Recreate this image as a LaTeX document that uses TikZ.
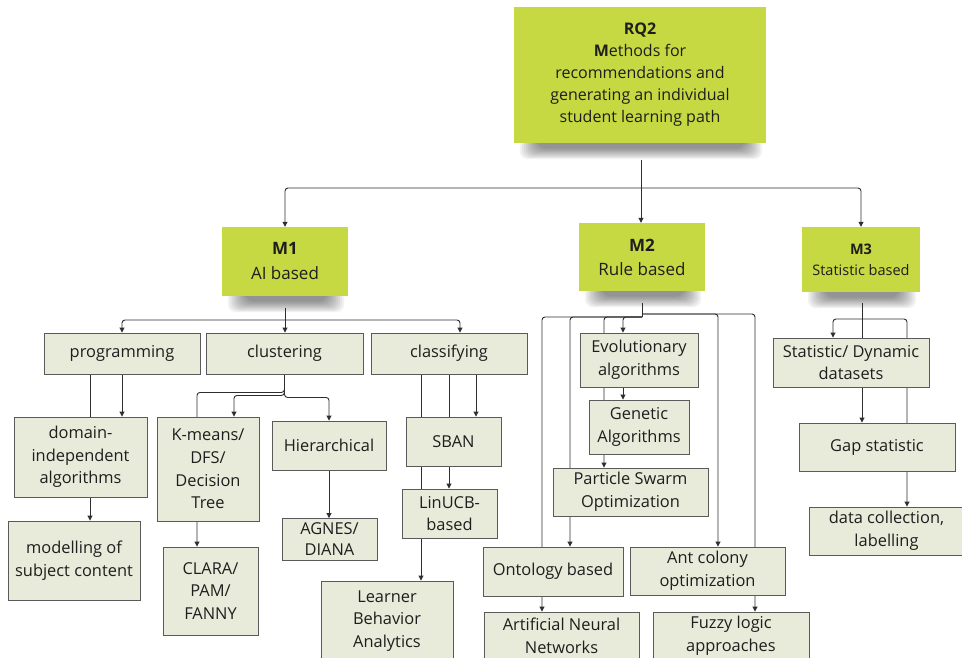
\documentclass[tikz,border=0pt]{standalone}
\usepackage{fontspec}
\setmainfont{Open Sans}
\usetikzlibrary{arrows.meta}
\definecolor{note}{HTML}{C6D842}
\definecolor{boxfill}{HTML}{E8EBDA}
\definecolor{boxline}{HTML}{5A5A5A}
\definecolor{lnk}{HTML}{2E2E2E}
\definecolor{txt}{HTML}{1E1E1E}
\pgfdeclarelayer{bg}
\pgfsetlayers{bg,main}
\begin{document}
\begin{tikzpicture}[x=1pt,y=-1pt,
  wh/.style 2 args={minimum width=#1, minimum height=#2},
  notebox/.style={fill=note, inner sep=0pt, align=center, text=txt},
  shadowpart/.style={fill=black, opacity=0.05, rounded corners=8pt},
  box/.style={draw=boxline, fill=boxfill, line width=0.9pt, inner sep=0pt,
    align=center, text=txt, font=\fontsize{16.4}{22.6}\selectfont},
  link/.style={draw=lnk, line width=0.9pt, rounded corners=3pt},
  arr/.style={link, -{Triangle[length=5pt,width=5pt]}}]
\begin{pgfonlayer}{bg}
\fill[white] (0,0) rectangle (962,658);
\end{pgfonlayer}
\useasboundingbox (0,0) rectangle (962,658);

% ---------- sticky notes ----------
\node[notebox, wh={252}{136}, font=\fontsize{16}{22}\selectfont] (rq) at (640,75)
  {\textbf{RQ2}\\\textbf{M}ethods for\\recommendations and\\generating an individual\\student learning path};
\node[notebox, wh={126}{69}, font=\fontsize{17}{25}\selectfont] (m1) at (285,261.5)
  {\textbf{M1}\\AI based};
\node[notebox, wh={126}{68}, font=\fontsize{17}{24}\selectfont] (m2) at (642,257)
  {\textbf{M2}\\Rule based};
\node[notebox, wh={118}{65}, font=\fontsize{14.5}{21}\selectfont] (m3) at (861,259.5)
  {\textbf{M3}\\Statistic based};

% ---------- M1 branch ----------
\node[box, wh={156}{41}] (prog) at (122,353.5) {programming};
\node[box, wh={157}{41}] (clust) at (284.5,353.5) {clustering};
\node[box, wh={156}{41}] (class) at (449,353.5) {classifying};
\node[box, wh={133}{80}] (dom) at (80.5,457) {domain-\\independent\\algorithms};
\node[box, wh={132}{79}] (mod) at (74,560.5) {modelling of\\subject content};
\node[box, wh={102}{104}] (kmeans) at (208,469) {K-means/\\DFS/\\Decision\\Tree};
\node[box, wh={95}{88}] (clara) at (210.5,591) {CLARA/\\PAM/\\FANNY};
\node[box, wh={114}{49}] (hier) at (329,445.5) {Hierarchical};
\node[box, wh={95}{42}, font=\fontsize{16.4}{21}\selectfont] (agnes) at (329.5,539.5) {AGNES/\\DIANA};
\node[box, wh={95}{49}] (sban) at (453.5,441.5) {SBAN};
\node[box, wh={95}{49}] (linucb) at (449.5,513.5) {LinUCB-\\based};
\node[box, wh={132}{80}] (learner) at (387,621) {Learner\\Behavior\\Analytics};

% ---------- M2 branch ----------
\node[box, wh={118}{54}] (evo) at (639,360) {Evolutionary\\algorithms};
\node[box, wh={100}{54}] (gen) at (639,427) {Genetic\\Algorithms};
\node[box, wh={155}{48}] (pso) at (630.5,492) {Particle Swarm\\Optimization};
\node[box, wh={140}{49}] (onto) at (553,571.5) {Ontology based};
\node[box, wh={155}{48}] (ant) at (707.5,571) {Ant colony\\optimization};
\node[box, wh={155}{48}] (ann) at (561.5,636) {Artificial Neural\\Networks};
\node[box, wh={156}{48}] (fuzzy) at (731,636) {Fuzzy logic\\approaches};

% ---------- M3 branch ----------
\node[box, wh={156}{49}] (stat) at (851,362.5) {Statistic/ Dynamic\\datasets};
\node[box, wh={156}{48}] (gap) at (877,447) {Gap statistic};
\node[box, wh={155}{48}] (data) at (886.5,531) {data collection,\\labelling};

\begin{pgfonlayer}{bg}
% soft shadows under the sticky notes
\foreach \n in {rq,m1,m2,m3}{
  \foreach \i in {0,...,9}{
    \fill[shadowpart] ([xshift={(6+2*\i)*1pt}, yshift=6pt]\n.south west)
      rectangle ([xshift={-(4+2*\i)*1pt}, yshift={-(16-1.2*\i)*1pt}]\n.south east);
  }
}
% RQ2 -> M1, M2, M3
\coordinate (rqj) at (641,188);
\draw[link] (rqj |- rq.south) ++(0,17) -- (rqj);
\draw[arr] (rqj) -| (m1.north);
\draw[arr] (rqj) -- (rqj |- m2.north);
\draw[arr] (rqj) -| (m3.north);

% M1
\coordinate (m1j) at (285,320);
\draw[link] (m1j |- m1.south) ++(0,12) -- (m1j);
\draw[arr] (m1j) -| (prog.north);
\draw[arr] (m1j) -- (m1j |- clust.north);
\draw[arr] (m1j) -| ([xshift=11pt]class.north);

\draw[arr] ([xshift=-32pt]prog.south) -- ([xshift=-32pt]prog.south |- mod.north);
\draw[arr] (prog.south) -- (prog.south |- dom.north);

\draw[arr] (clust.south) -- ++(0,18) -| ([xshift=-13.5pt]clara.north);
\draw[arr] (clust.south) -- ++(0,21) -| ([xshift=26pt]kmeans.north);
\draw[arr] (clust.south) -- ++(0,23) -| (hier.north);
\draw[arr] (hier.south) -- (hier.south |- agnes.north);

\draw[arr] ([xshift=27pt]class.south) -- ([xshift=27pt]class.south |- sban.north);
\draw[arr] (class.south) -- (class.south |- linucb.north);
\draw[arr] ([xshift=-28pt]class.south) -- ([xshift=-28pt]class.south |- learner.north);

% M2
\coordinate (m2j) at (642,317);
\coordinate (m2r) at (642,314);
\draw[link] (m2j |- m2.south) ++(0,12) -- (m2j);
\draw[arr] (m2j) -| ([xshift=-19.5pt]ann.north);
\draw[arr] (m2j) -| ([xshift=17pt]onto.north);
\draw[arr] (m2j) -| ([xshift=-26.5pt]pso.north);
\draw[arr] (m2j) -| ([xshift=-16pt]evo.north);
\draw[arr] ([xshift=-16pt]evo.south) -- ([xshift=-16pt]evo.south |- gen.north);
\draw[arr] (m2r) -| ([xshift=10.5pt]ant.north);
\draw[arr] (m2r) -| ([xshift=24pt]fuzzy.north);

% M3
\coordinate (m3j) at (862,319);
\draw[link] (m3j |- m3.south) ++(0,11) -- (m3j);
\draw[arr] (m3j) -| ([xshift=-18pt]stat.north);
\draw[arr] (m3j) -- (m3j |- gap.north);
\draw[arr] (m3j) -| ([xshift=20.5pt]data.north);
\end{pgfonlayer}
\end{tikzpicture}
\end{document}
